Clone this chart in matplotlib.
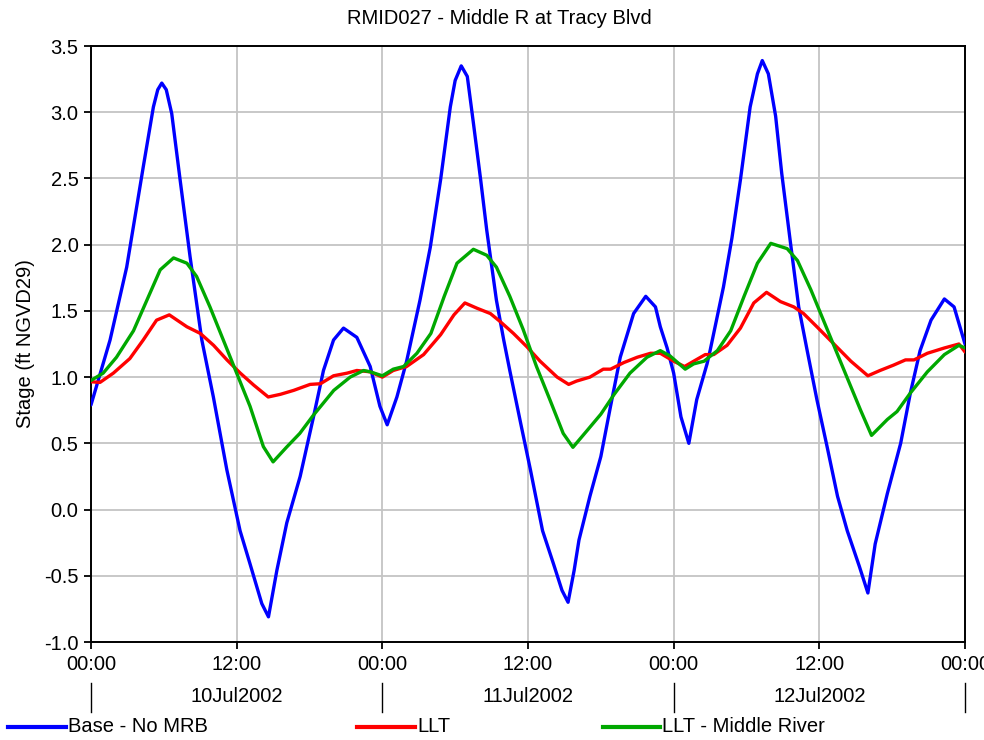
import matplotlib
matplotlib.use('Agg')
import matplotlib.pyplot as plt
import matplotlib.transforms as mtransforms
from matplotlib.lines import Line2D

plt.rcParams['font.family'] = ['Liberation Sans', 'DejaVu Sans']

title = "RMID027 - Middle R at Tracy Blvd"
ylabel = "Stage (ft NGVD29)"
series_names = ["Base - No MRB", "LLT", "LLT - Middle River"]
series_colors = ["#0000ff", "#ff0000", "#00a800"]
xtick_hours = [0, 12, 24, 36, 48, 60, 72]
xtick_labels = ["00:00", "12:00", "00:00", "12:00", "00:00", "12:00", "00:00"]
day_labels = ["10Jul2002", "11Jul2002", "12Jul2002"]
day_centers = [12, 36, 60]
day_bounds = [0, 24, 48, 72]
yticks = [-1.0, -0.5, 0.0, 0.5, 1.0, 1.5, 2.0, 2.5, 3.0, 3.5]

# hours since 10Jul2002 00:00
base_t = [0, 1.57, 2.94, 4.31, 5.14, 5.5, 5.83, 6.2, 6.65, 7.34, 8.16, 9.13, 10.08, 11.19,
          12.28, 13.1, 14.07, 14.62, 15.31, 16.13, 17.23, 18.33, 19.15, 19.98, 20.8,
          21.9, 23.0, 23.8, 24.4, 25.2, 26.0, 27.1, 27.95, 28.8, 29.6, 30.0, 30.5,
          31.0, 31.5, 32.1, 32.6, 33.4, 34.0, 34.5, 35.4, 36.2, 37.2, 38.1, 38.8,
          39.3, 39.8, 40.2, 41.1, 42.0, 42.8, 43.6, 44.7, 45.7, 46.5, 46.9, 47.46,
          48.0, 48.6, 49.25, 49.9, 50.75, 51.0, 52.1, 52.8, 53.5, 54.3, 54.9, 55.3,
          55.8, 56.4, 56.9, 57.6, 58.3, 59.0, 59.8, 60.65, 61.5, 62.3, 63.3, 64.0,
          64.6, 65.6, 66.7, 67.5, 68.3, 69.2, 70.3, 71.1, 72.0]
base_v = [0.79, 1.28, 1.83, 2.59, 3.04, 3.17, 3.22, 3.17, 2.99, 2.49, 1.91, 1.28, 0.85, 0.30,
          -0.16, -0.41, -0.71, -0.81, -0.46, -0.10, 0.25, 0.70, 1.05, 1.28, 1.37,
          1.30, 1.08, 0.78, 0.64, 0.85, 1.12, 1.58, 1.98, 2.49, 3.04, 3.24, 3.35,
          3.27, 2.92, 2.49, 2.11, 1.58, 1.28, 1.05, 0.65, 0.30, -0.16, -0.41, -0.61,
          -0.70, -0.46, -0.23, 0.10, 0.40, 0.78, 1.15, 1.48, 1.61, 1.53, 1.38, 1.22,
          1.03, 0.70, 0.50, 0.83, 1.10, 1.20, 1.68, 2.05, 2.49, 3.04, 3.29, 3.39,
          3.29, 2.97, 2.54, 2.03, 1.53, 1.20, 0.83, 0.47, 0.10, -0.16, -0.43, -0.63,
          -0.26, 0.12, 0.50, 0.88, 1.20, 1.43, 1.59, 1.53, 1.25]

llt_t = [0, 0.74, 1.84, 3.2, 4.3, 5.4, 6.45, 7.9, 9.0, 10.1, 11.2, 12.3, 13.4, 14.6,
         15.6, 16.7, 18.05, 18.9, 19.98, 21.1, 21.9, 23.0, 24.0, 24.9, 26.0, 27.4,
         28.8, 29.9, 30.8, 31.8, 32.9, 33.7, 34.8, 35.9, 37.0, 38.4, 39.35, 40.0,
         41.1, 42.2, 42.8, 43.9, 45.0, 46.1, 46.9, 48.0, 48.9, 49.65, 50.6, 51.3,
         52.4, 53.5, 54.6, 55.65, 56.8, 57.9, 58.7, 59.8, 61.2, 62.6, 64.0, 65.0,
         66.1, 67.1, 67.8, 68.9, 70.3, 71.5, 72.0]
llt_v = [0.965, 0.96, 1.03, 1.14, 1.28, 1.43, 1.47, 1.38, 1.33, 1.24, 1.13, 1.03, 0.94, 0.85,
         0.87, 0.90, 0.945, 0.95, 1.01, 1.03, 1.05, 1.04, 1.00, 1.05, 1.08, 1.17,
         1.32, 1.47, 1.56, 1.52, 1.48, 1.42, 1.33, 1.23, 1.12, 1.00, 0.945, 0.97,
         1.00, 1.06, 1.06, 1.11, 1.15, 1.18, 1.18, 1.12, 1.08, 1.12, 1.17, 1.17,
         1.24, 1.37, 1.56, 1.64, 1.57, 1.53, 1.48, 1.38, 1.25, 1.12, 1.01, 1.05,
         1.09, 1.13, 1.13, 1.18, 1.22, 1.25, 1.19]

mr_t = [0, 1.0, 2.1, 3.5, 4.6, 5.7, 6.8, 7.9, 8.7, 9.8, 10.9, 12.0, 13.1, 14.2, 15.0,
        16.1, 17.2, 18.3, 20.0, 21.35, 22.45, 23.0, 24.0, 24.9, 25.75, 26.85, 28.0,
        29.1, 30.15, 31.5, 32.6, 33.4, 34.5, 35.6, 36.7, 37.8, 38.9, 39.7, 40.9,
        42.0, 43.1, 44.4, 45.8, 46.9, 47.7, 48.95, 49.65, 50.5, 51.6, 52.7, 53.8,
        54.9, 56.0, 57.35, 58.2, 59.3, 60.65, 62.0, 63.4, 64.3, 65.6, 66.4, 67.5,
        68.9, 70.3, 71.5, 72.0]
mr_v = [0.975, 1.03, 1.15, 1.35, 1.58, 1.81, 1.90, 1.86, 1.76, 1.53, 1.28, 1.03, 0.78, 0.475, 0.36,
        0.47, 0.575, 0.71, 0.90, 1.00, 1.05, 1.04, 1.01, 1.06, 1.08, 1.18, 1.33,
        1.61, 1.86, 1.965, 1.92, 1.83, 1.61, 1.36, 1.08, 0.83, 0.575, 0.47, 0.60,
        0.72, 0.87, 1.03, 1.15, 1.20, 1.16, 1.06, 1.10, 1.12, 1.20, 1.35, 1.61,
        1.86, 2.01, 1.97, 1.88, 1.66, 1.36, 1.06, 0.75, 0.56, 0.68, 0.74, 0.88,
        1.04, 1.17, 1.24, 1.22]

FS = 14.5
W, H = 984, 740
fig = plt.figure(figsize=(W / 100, H / 100), dpi=100)
ax = fig.add_axes([91 / W, 1 - 642 / H, 874 / W, 596 / H])

series = [(base_t, base_v), (llt_t, llt_v), (mr_t, mr_v)]
for (t, v), c in zip(series, series_colors):
    ax.plot(t, v, color=c, lw=2.4, solid_joinstyle='round', solid_capstyle='round', zorder=3)

ax.set_xlim(0, 72)
ax.set_ylim(-1.0, 3.5)
ax.set_xticks(xtick_hours)
ax.set_xticklabels(xtick_labels)
ax.set_yticks(yticks)
ax.set_yticklabels([f"{y:.1f}" for y in yticks])
ax.grid(True, color='#c4c4c4', lw=1.3)
ax.set_axisbelow(True)
for s in ax.spines.values():
    s.set_linewidth(1.4)
    s.set_color('black')
ax.tick_params(direction='out', length=5, width=1.3, labelsize=FS, pad=4)

ax.set_ylabel(ylabel, fontsize=FS)
ax.yaxis.set_label_coords(-0.064, 0.5)

trans = mtransforms.blended_transform_factory(ax.transData, ax.transAxes)
for x, lab in zip(day_centers, day_labels):
    ax.text(x, -0.092, lab, transform=trans, ha='center', va='center', fontsize=FS)
for x in day_bounds:
    ax.plot([x, x], [-0.069, -0.117], transform=trans, clip_on=False, color='black', lw=1.0)

fig.text(499 / W, 1 - 18 / H, title, ha='center', va='center', fontsize=FS)

leg_y = 1 - 727 / H
for (x0, x1), name, c in zip([(8, 66), (357, 415), (603, 660)], series_names, series_colors):
    fig.add_artist(Line2D([x0 / W, x1 / W], [leg_y, leg_y], color=c, lw=3.0, transform=fig.transFigure))
    fig.text((x1 + 2) / W, leg_y, name, ha='left', va='center', fontsize=FS)

fig.savefig('out.png', dpi=100)
